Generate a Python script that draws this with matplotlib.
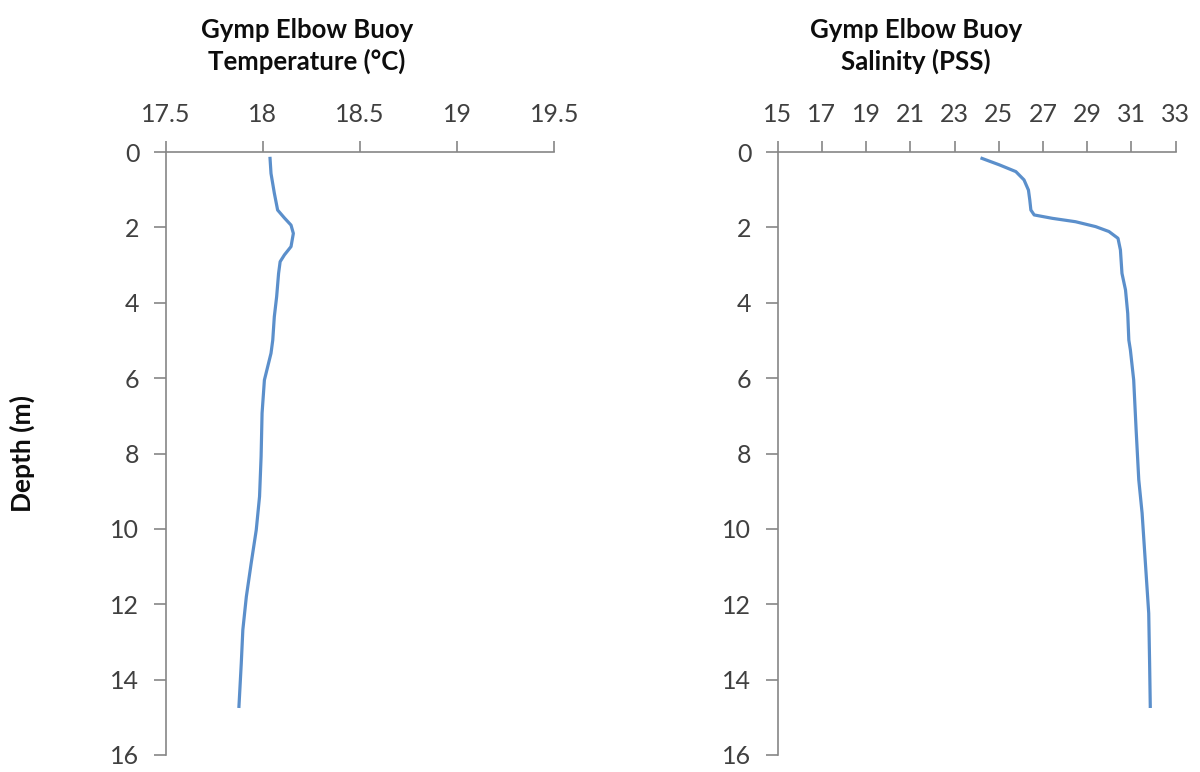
import matplotlib
matplotlib.use("Agg")
import matplotlib.pyplot as plt

plt.rcParams['font.family'] = ['Lato', 'DejaVu Sans']

# Temperature profile (°C) vs depth (m)
temp_depth = [0.17, 0.57, 1.09, 1.54, 1.75, 1.94, 2.16, 2.51, 2.73, 2.91, 3.22, 3.84,
              4.37, 4.99, 5.34, 6.05, 6.93, 8.08, 9.14, 10.03, 10.91, 11.80, 12.68,
              13.56, 14.71]
temp_vals = [18.037, 18.042, 18.059, 18.076, 18.111, 18.145, 18.157, 18.145, 18.111,
             18.089, 18.081, 18.071, 18.059, 18.051, 18.042, 18.008, 17.996, 17.991,
             17.983, 17.966, 17.940, 17.915, 17.897, 17.889, 17.877]

# Salinity profile (PSS) vs depth (m)
sal_depth = [0.17, 0.34, 0.52, 0.74, 1.01, 1.27, 1.54, 1.67, 1.76, 1.85, 1.98, 2.11,
             2.29, 2.60, 3.22, 3.66, 4.28, 4.99, 5.25, 6.05, 7.37, 8.70, 9.58, 10.91,
             12.24, 13.56, 14.71]
sal_vals = [24.24, 25.02, 25.77, 26.14, 26.34, 26.40, 26.45, 26.60, 27.42, 28.47,
            29.38, 29.98, 30.39, 30.50, 30.57, 30.73, 30.83, 30.88, 30.95, 31.10,
            31.21, 31.33, 31.48, 31.63, 31.78, 31.82, 31.85]

temp_ticks = [17.5, 18, 18.5, 19, 19.5]
temp_ticklabels = ['17.5', '18', '18.5', '19', '19.5']
sal_ticks = [15, 17, 19, 21, 23, 25, 27, 29, 31, 33]
depth_ticks = [0, 2, 4, 6, 8, 10, 12, 14, 16]

titles = ["Gymp Elbow Buoy\nTemperature (°C)", "Gymp Elbow Buoy\nSalinity (PSS)"]
ylabel = "Depth (m)"

W, H = 1200, 772
fig = plt.figure(figsize=(W / 100, H / 100), dpi=100)

line_color = '#5B8FCB'
spine_color = '#868686'
text_color = '#404040'

def px_axes(x0, x1, y0, y1):
    return fig.add_axes([x0 / W, 1 - y1 / H, (x1 - x0) / W, (y1 - y0) / H])

ax1 = px_axes(165.7, 554.3, 152, 755)
ax2 = px_axes(777.7, 1175.7, 152, 755)

def style(ax, xticks, xlabels, xlim):
    ax.set_xlim(*xlim)
    ax.set_ylim(16, 0)
    ax.set_xticks(xticks)
    ax.set_xticklabels(xlabels)
    ax.set_yticks(depth_ticks)
    ax.set_yticklabels([str(d) for d in depth_ticks])
    ax.xaxis.tick_top()
    for s in ['right', 'bottom']:
        ax.spines[s].set_visible(False)
    for s in ['left', 'top']:
        ax.spines[s].set_color(spine_color)
        ax.spines[s].set_linewidth(1.2)
    ax.tick_params(axis='x', direction='out', length=8, width=1.2, color=spine_color,
                   pad=11, labelsize=18, labelcolor=text_color)
    ax.tick_params(axis='y', direction='out', length=9, width=1.2, color=spine_color,
                   pad=10, labelsize=18, labelcolor=text_color)
    ax.patch.set_alpha(0)

ax1.plot(temp_vals, temp_depth, color=line_color, lw=2.3, solid_joinstyle='round')
style(ax1, temp_ticks, temp_ticklabels, (17.5, 19.5))

ax2.plot(sal_vals, sal_depth, color=line_color, lw=2.3, solid_joinstyle='round')
style(ax2, sal_ticks, [str(t) for t in sal_ticks], (15, 33))

fig.text(307 / W, 1 - 46 / H, titles[0], ha='center', va='center', fontsize=18.5,
         fontweight='bold', color='#0d0d0d', linespacing=1.3)
fig.text(916 / W, 1 - 46 / H, titles[1], ha='center', va='center', fontsize=18.5,
         fontweight='bold', color='#0d0d0d', linespacing=1.3)
fig.text(22 / W, 1 - 453 / H, ylabel, ha='center', va='center', rotation=90,
         fontsize=19, fontweight='bold', color='#0d0d0d')

fig.savefig('out.png', dpi=100)
